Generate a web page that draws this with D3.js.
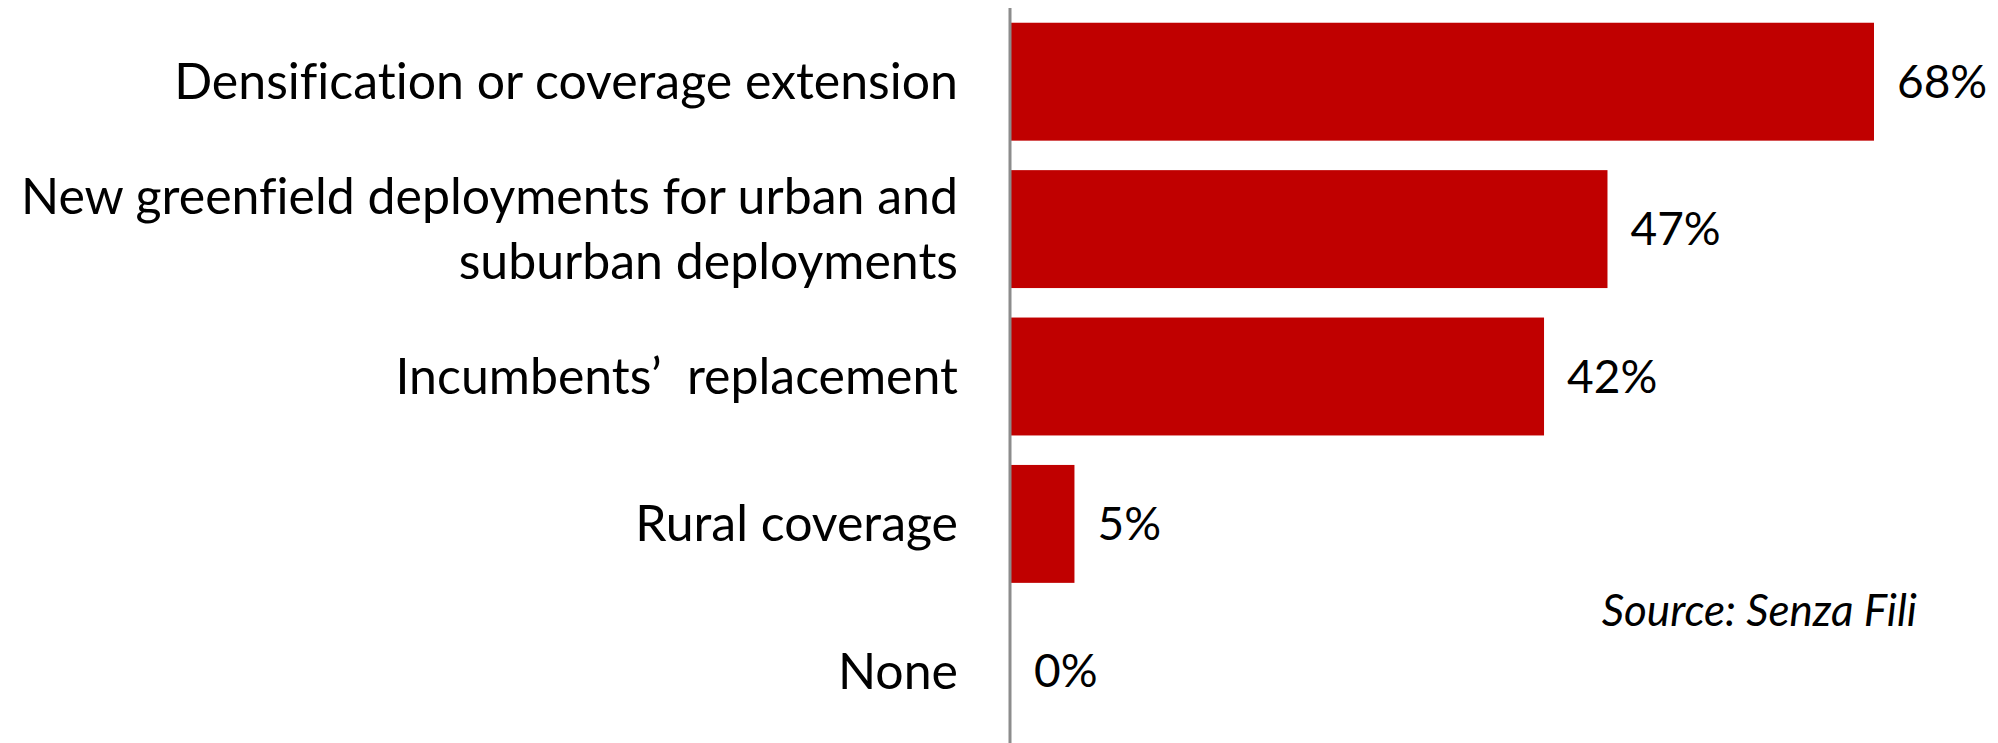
<!DOCTYPE html>
<html lang="en">
<head>
    <meta charset="UTF-8">
    <title>Deployment drivers</title>
    <script src="https://cdn.jsdelivr.net/npm/d3@7"></script>
    <style>
        body { margin: 0; background: #fff; }
        text { font-family: Lato, "Open Sans", sans-serif; fill: #000; font-variant-ligatures: none; }
    </style>
</head>
<body>
    <div id="chart-space"></div>

    <script>
        // data
        var categories = [
            ["Densification or coverage extension"],
            ["New greenfield deployments for urban and", "suburban deployments"],
            ["Incumbents\u2019  replacement"],
            ["Rural coverage"],
            ["None"]
        ];
        var values = [68, 47, 42, 5, 0];
        var sourceNote = "Source: Senza Fili";

        var width = 1998;
        var height = 743;
        var axisX = 1011;

        var svg = d3.select("#chart-space")
            .append("svg")
            .attr("width", width)
            .attr("height", height);

        var xScale = d3.scaleLinear()
            .domain([0, 68])
            .range([axisX, 1874]);

        var yScale = d3.scaleBand()
            .domain(d3.range(values.length))
            .range([8, 745])
            .paddingInner(0.2)
            .paddingOuter(0.1);

        // bars
        svg.selectAll("rect.bar")
            .data(values)
            .join("rect")
            .attr("class", "bar")
            .attr("x", xScale(0))
            .attr("y", function(d, i) { return yScale(i); })
            .attr("width", function(d) { return xScale(d) - xScale(0); })
            .attr("height", yScale.bandwidth())
            .attr("fill", "#C00000");

        // value labels
        svg.selectAll("text.val")
            .data(values)
            .join("text")
            .attr("class", "val")
            .attr("x", function(d) { return xScale(d) + 23; })
            .attr("y", function(d, i) { return yScale(i) + yScale.bandwidth() / 2; })
            .attr("dy", "0.35em")
            .style("font-size", "46px")
            .text(function(d) { return d + "%"; });

        // category labels (right aligned, can wrap to two lines)
        var lineH = 65;
        svg.selectAll("text.cat")
            .data(categories)
            .join("text")
            .attr("class", "cat")
            .attr("text-anchor", "end")
            .style("font-size", "50px")
            .each(function(lines, i) {
                var cy = yScale(i) + yScale.bandwidth() / 2;
                var startY = cy - (lines.length - 1) * lineH / 2;
                d3.select(this).selectAll("tspan")
                    .data(lines)
                    .join("tspan")
                    .attr("x", 958)
                    .attr("y", function(l, j) { return startY + j * lineH; })
                    .attr("dy", "0.35em")
                    .style("white-space", "pre")
                    .text(function(l) { return l; });
            });

        // vertical axis line
        svg.append("line")
            .attr("x1", axisX - 1)
            .attr("x2", axisX - 1)
            .attr("y1", 8)
            .attr("y2", height)
            .attr("stroke", "#8c8c8c")
            .attr("stroke-width", 3);

        svg.append("text")
            .attr("x", 1917)
            .attr("y", 626)
            .attr("text-anchor", "end")
            .style("font-size", "44px")
            .style("font-style", "italic")
            .text(sourceNote);
    </script>
</body>
</html>
